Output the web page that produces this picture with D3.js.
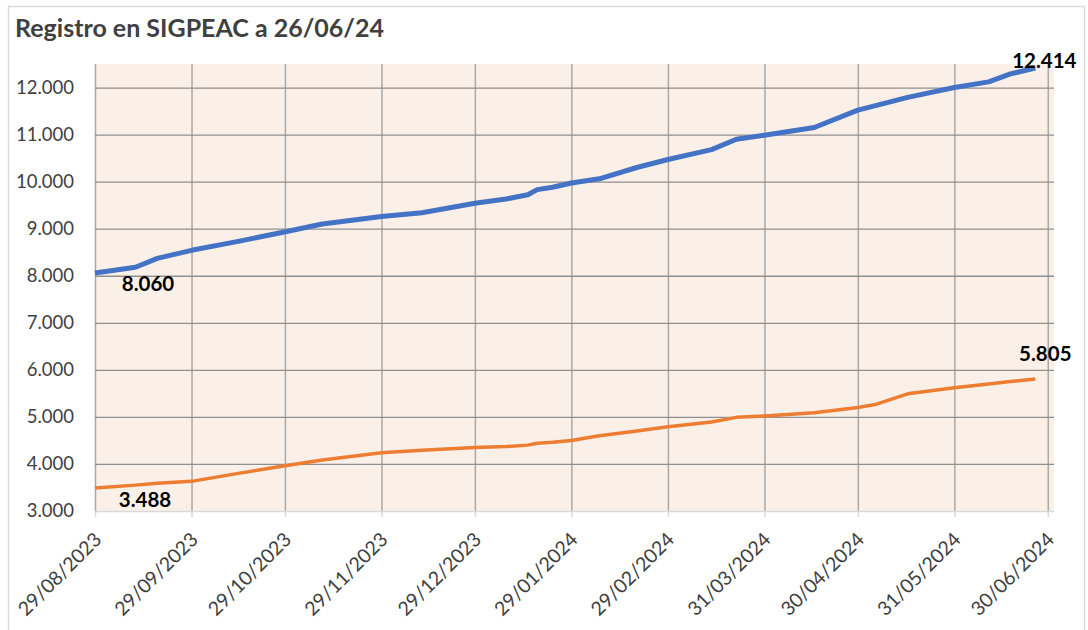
<!DOCTYPE html>
<html>
<head>
<meta charset="utf-8">
<script src="https://cdn.jsdelivr.net/npm/d3@7"></script>
<style>
  body { margin: 0; background: #fff; }
  svg { display: block; font-family: Lato, "Open Sans", sans-serif; }
</style>
</head>
<body>
<script>
// Data
let fechas = ["29/08/2023", "11/09/2023", "18/09/2023", "29/09/2023", "14/10/2023", "28/10/2023",
  "10/11/2023", "29/11/2023", "12/12/2023", "29/12/2023", "08/01/2024", "15/01/2024",
  "18/01/2024", "23/01/2024", "29/01/2024", "07/02/2024", "19/02/2024", "29/02/2024",
  "14/03/2024", "22/03/2024", "31/03/2024", "16/04/2024", "30/04/2024", "06/05/2024",
  "16/05/2024", "31/05/2024", "11/06/2024", "18/06/2024", "26/06/2024"];
let serieAzul = [8060, 8180, 8370, 8540, 8730, 8920,
  9100, 9260, 9340, 9540, 9630, 9720,
  9830, 9880, 9970, 10060, 10300, 10470,
  10680, 10900, 10985, 11150, 11520, 11620,
  11790, 12000, 12120, 12290, 12414];
let serieNaranja = [3488, 3550, 3590, 3630, 3800, 3950,
  4085, 4240, 4290, 4350, 4370, 4400,
  4440, 4460, 4500, 4600, 4700, 4790,
  4890, 4990, 5020, 5090, 5200, 5270,
  5490, 5620, 5700, 5750, 5805];
let tickFechas = ["29/08/2023", "29/09/2023", "29/10/2023", "29/11/2023", "29/12/2023",
  "29/01/2024", "29/02/2024", "31/03/2024", "30/04/2024", "31/05/2024", "30/06/2024"];
let yTicks = [3000, 4000, 5000, 6000, 7000, 8000, 9000, 10000, 11000, 12000];
let titulo = "Registro en SIGPEAC a 26/06/24";

let W = 1088, H = 630;
let plot = { left: 95, top: 64, right: 1054, bottom: 511 };

let parse = d3.timeParse("%d/%m/%Y");
let fmtFecha = d3.timeFormat("%d/%m/%Y");
let es = d3.formatLocale({ decimal: ",", thousands: ".", grouping: [3], currency: ["", " €"] });
let fmtNum = es.format(",d");

let svg = d3.select("body").append("svg")
  .attr("width", W)
  .attr("height", H);

// outer chart border
svg.append("rect")
  .attr("x", 8.5).attr("y", 6.5)
  .attr("width", 1076).attr("height", 700)
  .attr("fill", "#fff")
  .attr("stroke", "#d9d9d9")
  .attr("stroke-width", 1.5);

svg.append("text")
  .attr("x", 15).attr("y", 37)
  .attr("font-size", 25)
  .attr("font-weight", "bold")
  .attr("fill", "#404040")
  .text(titulo);

let x = d3.scaleTime()
  .domain([parse("29/08/2023"), parse("02/07/2024")])
  .range([plot.left, plot.right]);

let y = d3.scaleLinear()
  .domain([3000, 12500])
  .range([plot.bottom, plot.top]);

// plot background
svg.append("rect")
  .attr("x", plot.left).attr("y", plot.top)
  .attr("width", plot.right - plot.left)
  .attr("height", plot.bottom - plot.top)
  .attr("fill", "#fbf0e8");

let tickDates = tickFechas.map(parse);

// vertical grid
svg.append("g")
  .attr("transform", "translate(0," + plot.bottom + ")")
  .call(d3.axisBottom(x).tickValues(tickDates).tickSize(-(plot.bottom - plot.top)).tickFormat(""))
  .call(g => g.select(".domain").remove())
  .call(g => g.selectAll("line").attr("stroke", "#a9a9a9").attr("stroke-width", 1.5));

// horizontal grid
svg.append("g")
  .attr("transform", "translate(" + plot.left + ",0)")
  .call(d3.axisLeft(y).tickValues(yTicks.slice(1)).tickSize(-(plot.right - plot.left)).tickFormat(""))
  .call(g => g.select(".domain").remove())
  .call(g => g.selectAll("line").attr("stroke", "#8f8f8f").attr("stroke-width", 1.3));

// x axis line with small ticks
svg.append("g")
  .attr("transform", "translate(0," + plot.bottom + ")")
  .call(d3.axisBottom(x).tickValues(tickDates).tickSize(6).tickSizeOuter(0).tickFormat(""))
  .call(g => g.select(".domain").attr("stroke", "#d9d9d9").attr("stroke-width", 1.5))
  .call(g => g.selectAll("line").attr("stroke", "#d9d9d9").attr("stroke-width", 1.5));

// y labels
svg.append("g")
  .attr("transform", "translate(" + plot.left + ",0)")
  .call(d3.axisLeft(y).tickValues(yTicks).tickSize(0).tickPadding(21).tickFormat(fmtNum))
  .call(g => g.select(".domain").remove())
  .call(g => g.selectAll("text")
    .attr("font-family", "Lato, sans-serif")
    .attr("font-size", 18.5)
    .attr("fill", "#404040"));

// x labels, rotated
svg.append("g")
  .selectAll("text")
  .data(tickDates).enter().append("text")
  .attr("transform", d => "translate(" + (x(d) - 2) + "," + 531 + ") rotate(-45)")
  .attr("text-anchor", "end")
  .attr("dy", "0.7em")
  .attr("font-size", 19.5)
  .attr("fill", "#404040")
  .text(d => fmtFecha(d));

let datos = fechas.map((f, i) => ({ fecha: parse(f), azul: serieAzul[i], naranja: serieNaranja[i] }));

let lineaAzul = d3.line().x(d => x(d.fecha)).y(d => y(d.azul));
let lineaNaranja = d3.line().x(d => x(d.fecha)).y(d => y(d.naranja));

svg.append("path")
  .datum(datos)
  .attr("fill", "none")
  .attr("stroke", "#ed7d31")
  .attr("stroke-width", 3.5)
  .attr("stroke-linejoin", "round")
  .attr("d", lineaNaranja);

svg.append("path")
  .datum(datos)
  .attr("fill", "none")
  .attr("stroke", "#4472c4")
  .attr("stroke-width", 5)
  .attr("stroke-linejoin", "round")
  .attr("d", lineaAzul);

// data labels on first and last points
let primero = datos[0], ultimo = datos[datos.length - 1];
let etiquetas = [
  { d: primero, v: primero.azul, dx: 53, dy: 18 },
  { d: primero, v: primero.naranja, dx: 50, dy: 19 },
  { d: ultimo, v: ultimo.azul, dx: 9, dy: 0 },
  { d: ultimo, v: ultimo.naranja, dx: 10, dy: -18 }
];

svg.append("g")
  .selectAll("text")
  .data(etiquetas).enter().append("text")
  .attr("x", e => x(e.d.fecha) + e.dx)
  .attr("y", e => y(e.v) + e.dy)
  .attr("text-anchor", "middle")
  .attr("font-size", 20.5)
  .attr("font-weight", "bold")
  .attr("fill", "#000")
  .text(e => fmtNum(e.v));
</script>
</body>
</html>
